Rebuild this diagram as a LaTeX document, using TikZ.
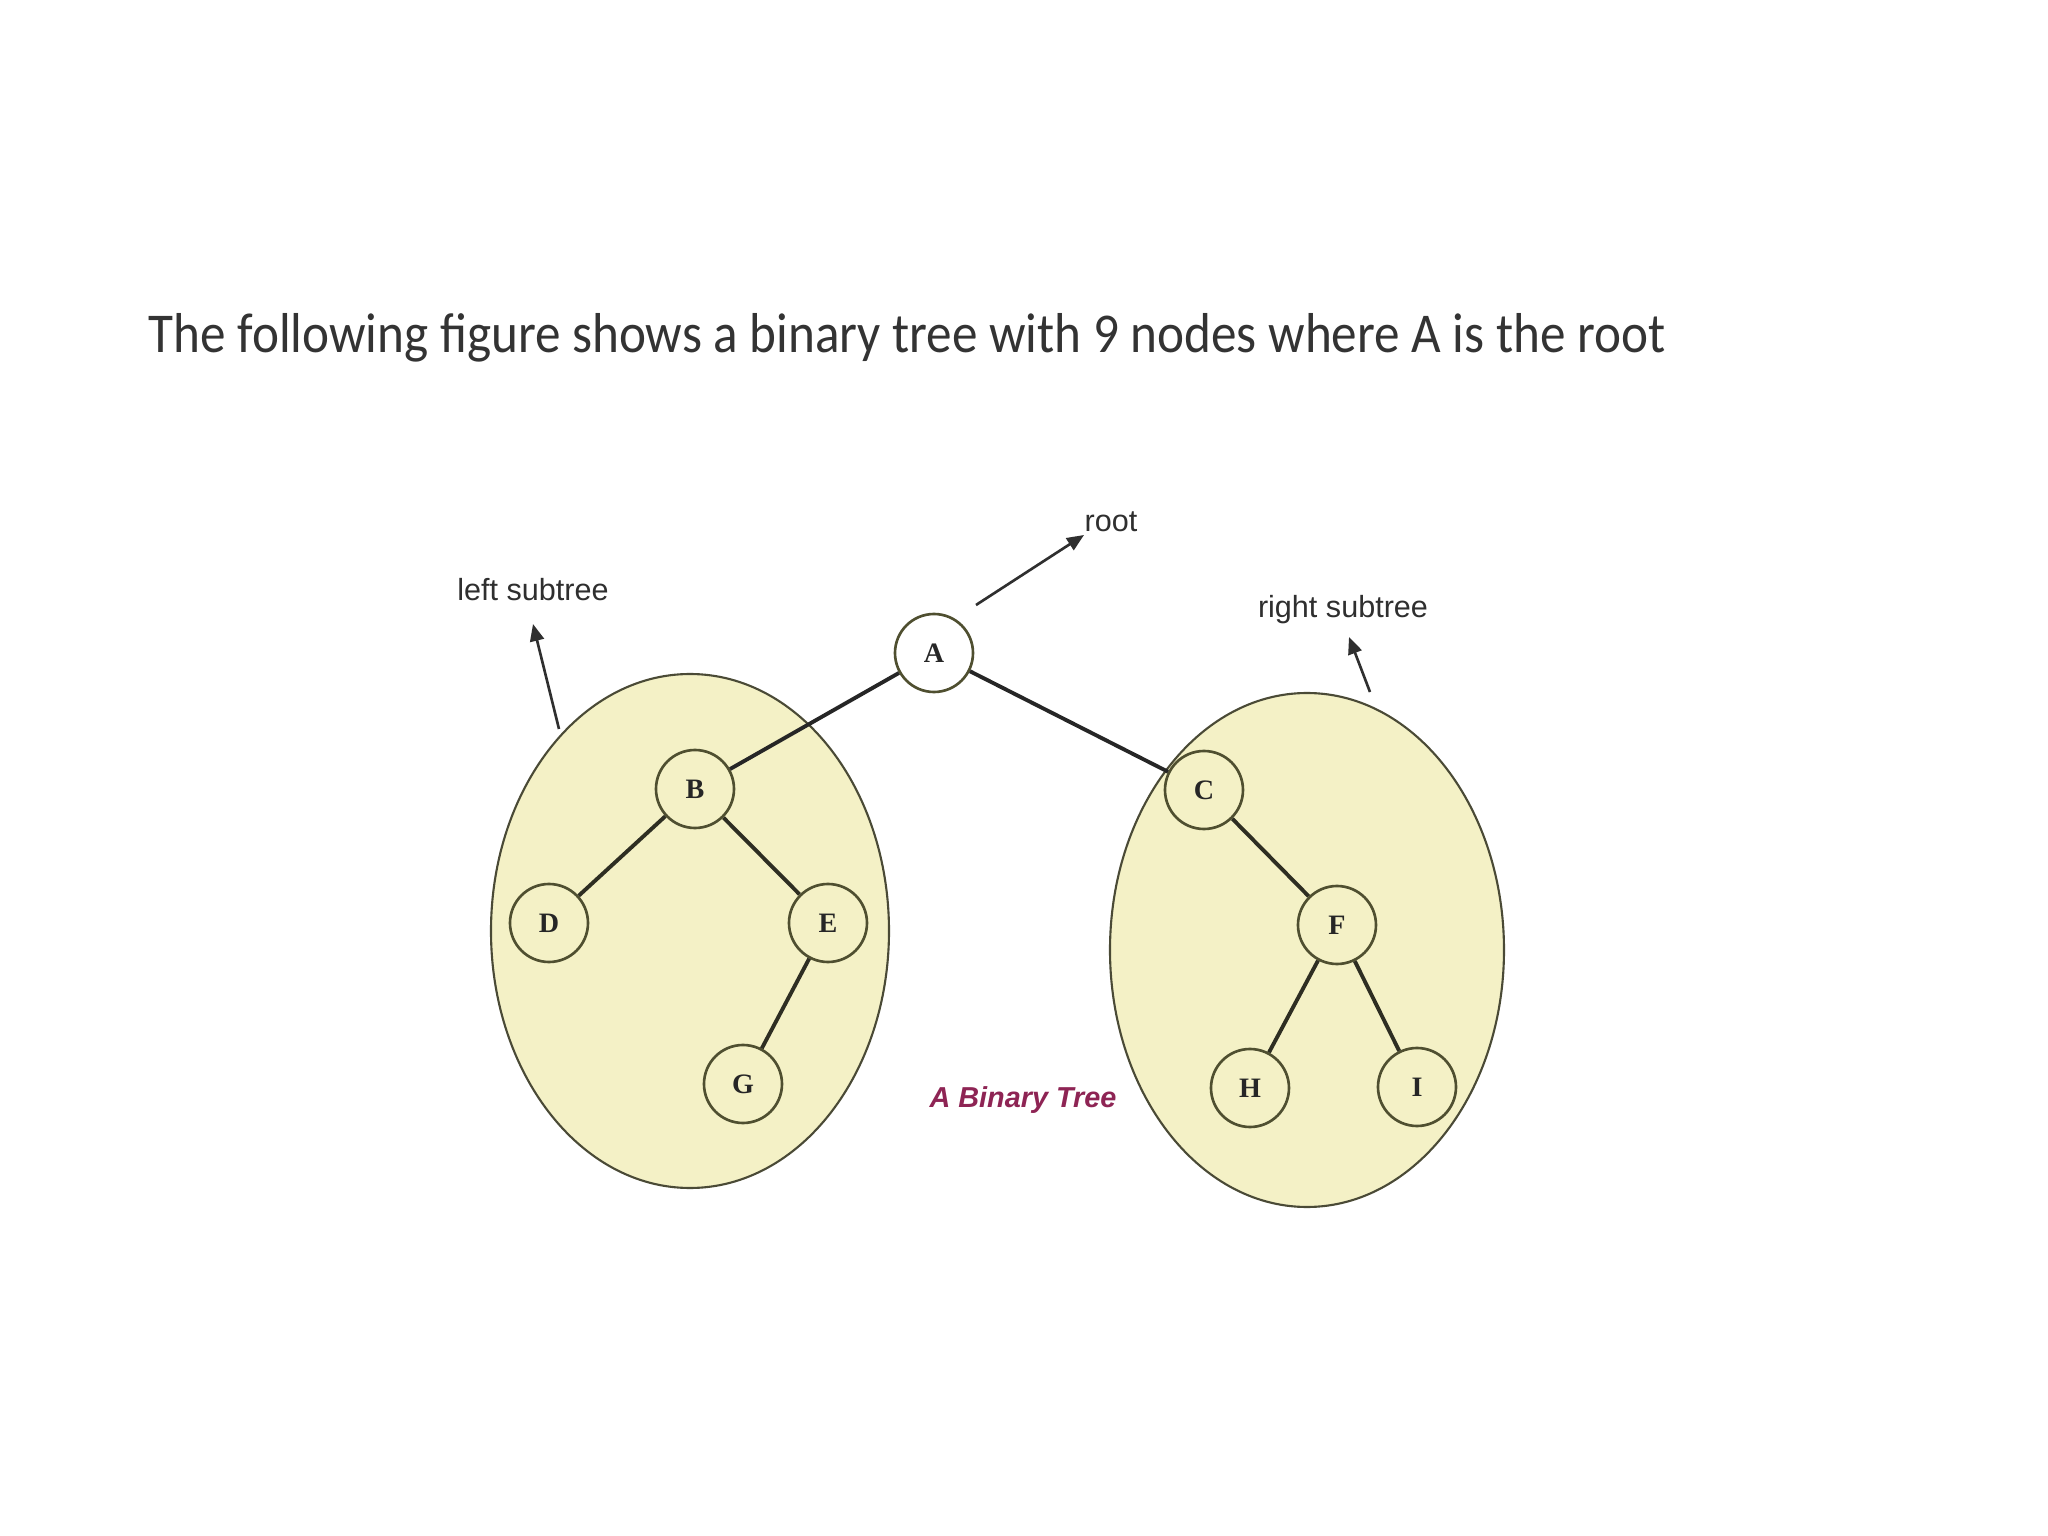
\documentclass[tikz,border=0pt]{standalone}
\usepackage{fontspec}
\setmainfont{Liberation Serif}
\setsansfont{Liberation Sans}
\newfontfamily\titlefont{Carlito}
\usetikzlibrary{arrows.meta}
\definecolor{subfill}{HTML}{F4F1C6}
\definecolor{subline}{HTML}{4A4A36}
\definecolor{nodeline}{HTML}{4F4F30}
\definecolor{edgecol}{HTML}{2E2E22}
\definecolor{labcol}{HTML}{2F2F2F}
\definecolor{captcol}{HTML}{8E2454}
\tikzset{
  tnode/.style={circle, draw=nodeline, line width=0.75pt, minimum size=0.78cm, inner sep=0pt,
    font=\fontsize{8}{9}\selectfont\bfseries, text=black!85},
  tedge/.style={draw=edgecol, line width=1.1pt},
  subtree/.style={fill=subfill, draw=subline, line width=0.6pt},
  lab/.style={font=\sffamily\fontsize{8.7}{10}\selectfont, text=labcol, inner sep=0pt},
  ptr/.style={draw=labcol, line width=0.75pt, -{Triangle[length=0.17cm,width=0.14cm]}}
}
\begin{document}
\begin{tikzpicture}
\useasboundingbox[fill=white] (0,0) rectangle (20.48,-15.36);
% title
\node[anchor=base west, inner sep=0pt, xscale=0.91, font=\titlefont\fontsize{16}{19}\selectfont, text=black!80]
  (title) at (1.48,-3.53) {The following figure shows a binary tree with 9 nodes where A is the root};
% subtree ellipses
\fill[subfill] (6.90,-9.31) ellipse [x radius=1.99, y radius=2.57];
\fill[subfill] (13.07,-9.50) ellipse [x radius=1.97, y radius=2.57];
% nodes
\node[tnode, fill=white] (A) at (9.34,-6.53) {A};
\node[tnode] (B) at (6.95,-7.89) {B};
\node[tnode] (D) at (5.49,-9.23) {D};
\node[tnode] (E) at (8.28,-9.23) {E};
\node[tnode] (G) at (7.43,-10.84) {G};
\node[tnode] (C) at (12.04,-7.90) {C};
\node[tnode] (F) at (13.37,-9.25) {F};
\node[tnode] (H) at (12.50,-10.88) {H};
\node[tnode] (I) at (14.17,-10.87) {I};
% subtree outlines
\draw[subline, line width=0.6pt] (6.90,-9.31) ellipse [x radius=1.99, y radius=2.57];
\draw[subline, line width=0.6pt] (13.07,-9.50) ellipse [x radius=1.97, y radius=2.57];
% edges
\draw[tedge, draw=black!85] (A) -- (B);
\draw[tedge, draw=black!85] (A) -- (C);
\draw[tedge] (B) -- (D);
\draw[tedge] (B) -- (E);
\draw[tedge] (E) -- (G);
\draw[tedge] (C) -- (F);
\draw[tedge] (F) -- (H);
\draw[tedge] (F) -- (I);
% labels
\node[lab] (root) at (11.11,-5.22) {root};
\node[lab] (lsub) at (5.33,-5.90) {left subtree};
\node[lab] (rsub) at (13.43,-6.10) {right subtree};
\node[font=\sffamily\bfseries\itshape\fontsize{8.2}{10}\selectfont, text=captcol, inner sep=0pt]
  (cap) at (10.23,-11.00) {A Binary Tree};
% pointer arrows
\coordinate (rootS) at (9.76,-6.05);
\coordinate (rootE) at (10.84,-5.35);
\coordinate (lsubS) at (5.59,-7.29);
\coordinate (lsubE) at (5.33,-6.24);
\coordinate (rsubS) at (13.70,-6.92);
\coordinate (rsubE) at (13.49,-6.37);
\draw[ptr] (rootS) -- (rootE);
\draw[ptr] (lsubS) -- (lsubE);
\draw[ptr] (rsubS) -- (rsubE);
\end{tikzpicture}
\end{document}
